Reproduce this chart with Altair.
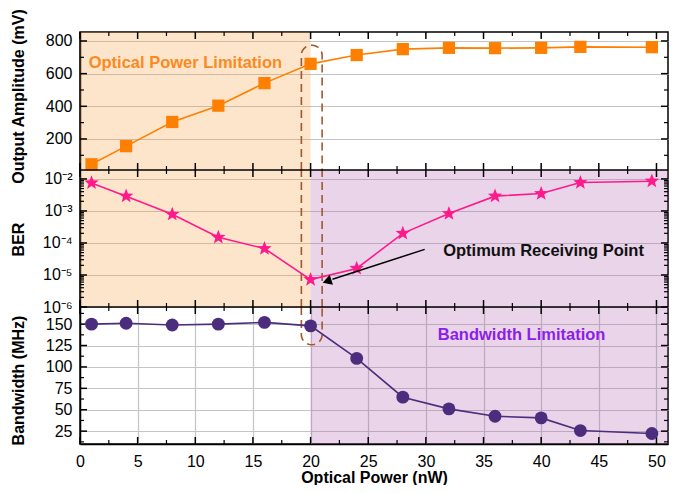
import altair as alt
import pandas as pd
import numpy as np

# ---------------- data ----------------
power = [1, 4, 8, 12, 16, 20, 24, 28, 32, 36, 40, 43.4, 49.6]
amplitude = [45, 156, 304, 404, 542, 660, 714, 750, 758, 756, 758, 764, 762]
ber = [7.5e-3, 2.9e-3, 7.9e-4, 1.5e-4, 6.7e-5, 7.2e-6, 1.6e-5, 2.0e-4,
       8.3e-4, 2.9e-3, 3.5e-3, 7.7e-3, 8.5e-3]
bandwidth = [150, 151, 149, 150, 152, 148, 110, 64.7, 51, 42.4, 40.5, 25.7, 22.3]

x_major = [0, 5, 10, 15, 20, 25, 30, 35, 40, 45, 50]
x_minor = [2.5, 7.5, 12.5, 17.5, 22.5, 27.5, 32.5, 37.5, 42.5, 47.5]
amp_major = [200, 400, 600, 800]
amp_minor = [100, 300, 500, 700]
ber_major = [1e-6, 1e-5, 1e-4, 1e-3, 1e-2]
ber_minor = [k * 10.0 ** d for d in range(-6, -2) for k in range(2, 10)]
bw_major = [25, 50, 75, 100, 125, 150]
bw_minor = [12.5, 37.5, 62.5, 87.5, 112.5, 137.5, 162.5]

# ---------------- style / layout ----------------
FONT = "Liberation Sans"
W = 588
XMAX = 51
B1, B2, B3 = (0, 138), (138, 275), (275, 412)   # pixel bands of the three panels
H = B3[1]
ORANGE = "#ff8000"
PINK = "#ff1a8c"
PURPLE = "#4b2c7d"
VIOLET = "#8d1ee8"
BROWN = "#a0582d"
PEACH_FILL = "#f79733"
LILAC_FILL = "#a753a7"
FILL_OPACITY = 0.25
STAR = ("M0,-1L0.247,-0.34L0.951,-0.309L0.4,0.13L0.588,0.809L0,0.42"
        "L-0.588,0.809L-0.4,0.13L-0.951,-0.309L-0.247,-0.34Z")

X = alt.X("x:Q", scale=alt.Scale(domain=[0, XMAX], nice=False, zero=False),
          axis=alt.Axis(values=x_major, grid=True, ticks=False, tickSize=0,
                        labelFlush=False, labelPadding=9, titlePadding=0,
                        title="Optical  Power (nW)"))


def yenc(scale, title, values, title_y, label_expr=None):
    kw = dict(values=values, grid=True, ticks=False, tickSize=0, labelPadding=8,
              orient="left", labelFlush=False, title=title, titleX=-62, titleY=title_y,
              titleAngle=270, titleAlign="center", titleBaseline="middle")
    if label_expr:
        kw["labelExpr"] = label_expr
    return alt.Y("y:Q", scale=scale, axis=alt.Axis(**kw))


def ticks(band, Y, y_major, y_minor):
    t, b = band
    layers = []
    for vals, L, sw in [(x_major, 7, 1.5), (x_minor, 4, 1.2)]:
        base = alt.Chart(pd.DataFrame({"x": vals})).mark_rule(color="black", strokeWidth=sw)
        layers.append(base.encode(x=X, y=alt.value(t), y2=alt.value(t + L)))
        layers.append(base.encode(x=X, y=alt.value(b - L), y2=alt.value(b)))
    for vals, L, sw in [(y_major, 7, 1.5), (y_minor, 4, 1.2)]:
        base = alt.Chart(pd.DataFrame({"y": vals})).mark_rule(color="black", strokeWidth=sw)
        layers.append(base.encode(y=Y, x=alt.value(0), x2=alt.value(L)))
        layers.append(base.encode(y=Y, x=alt.value(W - L), x2=alt.value(W)))
    return layers


def shade(band, x0, x1, color):
    df = pd.DataFrame({"x": [x0], "x2": [x1]})
    return alt.Chart(df).mark_rect(color=color, opacity=FILL_OPACITY).encode(
        x=X, x2=alt.X2("x2:Q"), y=alt.value(band[0]), y2=alt.value(band[1]))


def bracket(Y, y_edge, y_center, ry, upper):
    # dashed rounded bracket drawn around the 20 nW point
    xl, xr = 19.2, 21.0
    cx, rx = (xl + xr) / 2, (xr - xl) / 2
    th = np.linspace(np.pi, 0, 15) if upper else np.linspace(np.pi, 2 * np.pi, 15)
    xs = [xl] + [float(v) for v in cx + rx * np.cos(th)] + [xr]
    ys = [y_edge] + [float(v) for v in y_center + ry * np.sin(th)] + [y_edge]
    df = pd.DataFrame({"x": xs, "y": ys, "o": list(range(len(xs)))})
    return alt.Chart(df).mark_line(color=BROWN, strokeWidth=1.6, strokeDash=[8, 5]).encode(
        x=X, y=Y, order="o:Q")


def label(x, y, text, Y, color, align):
    df = pd.DataFrame({"x": [x], "y": [y], "t": [text]})
    return alt.Chart(df).mark_text(align=align, baseline="middle", font=FONT, fontSize=16.5,
                                   fontWeight="bold", color=color).encode(x=X, y=Y, text="t:N")


# ---------------- top panel: output amplitude ----------------
Y1 = yenc(alt.Scale(domain=[10, 855], nice=False, zero=False, range=[B1[1], B1[0]]),
          "Output Amplitude (mV)", amp_major, 64)
df1 = pd.DataFrame({"x": power, "y": amplitude})
top = alt.layer(
    shade(B1, 0, 20, PEACH_FILL),
    *ticks(B1, Y1, amp_major, amp_minor),
    bracket(Y1, 10, 714, 60, True),
    alt.Chart(df1).mark_line(color=ORANGE, strokeWidth=1.6).encode(x=X, y=Y1),
    alt.Chart(df1).mark_point(shape="square", filled=True, size=150, color=ORANGE, opacity=1).encode(x=X, y=Y1),
    label(0.75, 668, "Optical Power Limitation", Y1, "#fb8a1e", "left"),
)

# ---------------- middle panel: BER ----------------
ber_labels = ("datum.value >= 0.009 ? '10⁻²' : datum.value >= 0.0009 ? '10⁻³' : "
              "datum.value >= 0.00009 ? '10⁻⁴' : datum.value >= 0.000009 ? '10⁻⁵' : '10⁻⁶'")
Y2 = yenc(alt.Scale(type="log", domain=[1e-6, 1.9e-2], nice=False, range=[B2[1], B2[0]]),
          "BER", ber_major, 207, ber_labels)
df2 = pd.DataFrame({"x": power, "y": ber})
mid = alt.layer(
    shade(B2, 0, 20, PEACH_FILL),
    shade(B2, 20, XMAX, LILAC_FILL),
    *ticks(B2, Y2, ber_major, ber_minor),
    alt.Chart(pd.DataFrame({"x": [19.2, 21.0], "y": [1e-6, 1e-6], "y2": [1.9e-2, 1.9e-2]})).mark_rule(
        color=BROWN, strokeWidth=1.6, strokeDash=[8, 5]).encode(x=X, y=Y2, y2="y2:Q"),
    alt.Chart(df2).mark_line(color=PINK, strokeWidth=1.6).encode(x=X, y=Y2),
    alt.Chart(df2).mark_point(shape=STAR, filled=True, size=230, color=PINK, opacity=1).encode(x=X, y=Y2),
    alt.Chart(pd.DataFrame({"x": [29.9, 21.9], "y": [6.3e-5, 7.4e-6]})).mark_line(
        color="black", strokeWidth=1.5).encode(x=X, y=Y2),
    alt.Chart(pd.DataFrame({"x": [21.55], "y": [6.6e-6]})).mark_point(
        shape="triangle", filled=True, size=110, color="black", opacity=1, angle=252
    ).encode(x=X, y=Y2),
    label(31.5, 5.6e-5, "Optimum Receiving Point", Y2, "#111111", "left"),
)

# ---------------- bottom panel: bandwidth ----------------
Y3 = yenc(alt.Scale(domain=[10, 170], nice=False, zero=False, range=[B3[1], B3[0]]),
          "Bandwidth (MHz)", bw_major, 348)
df3 = pd.DataFrame({"x": power, "y": bandwidth})
bot = alt.layer(
    shade(B3, 20, XMAX, LILAC_FILL),
    *ticks(B3, Y3, bw_major, bw_minor),
    bracket(Y3, 170, 137.4, 11.4, False),
    alt.Chart(df3).mark_line(color=PURPLE, strokeWidth=1.6).encode(x=X, y=Y3),
    alt.Chart(df3).mark_point(shape="circle", filled=True, size=165, color=PURPLE, opacity=1).encode(x=X, y=Y3),
    label(38.3, 137, "Bandwidth Limitation", Y3, VIOLET, "center"),
)

sep1 = alt.Chart(pd.DataFrame({"s": [0]})).mark_rule(color="black", strokeWidth=1.5).encode(
    x=alt.value(0), x2=alt.value(W), y=alt.value(B1[1]))
sep2 = alt.Chart(pd.DataFrame({"s": [0]})).mark_rule(color="black", strokeWidth=1.5).encode(
    x=alt.value(0), x2=alt.value(W), y=alt.value(B2[1]))

chart = alt.layer(top, mid, bot, sep1, sep2).resolve_scale(
    y="independent"
).resolve_axis(y="independent").properties(
    width=W, height=H, padding={"left": 1, "top": 0, "right": 1, "bottom": 0}
).configure_axis(
    labelFont=FONT, titleFont=FONT, labelFontSize=16, titleFontSize=16,
    titleFontWeight="bold", labelColor="black", titleColor="black",
    domainColor="black", domainWidth=1.5, gridColor="#c4c4c4", gridWidth=1.2,
).configure_view(stroke="black", strokeWidth=1.5)

chart.save("out.html", embed_options={"renderer": "svg", "actions": False})
